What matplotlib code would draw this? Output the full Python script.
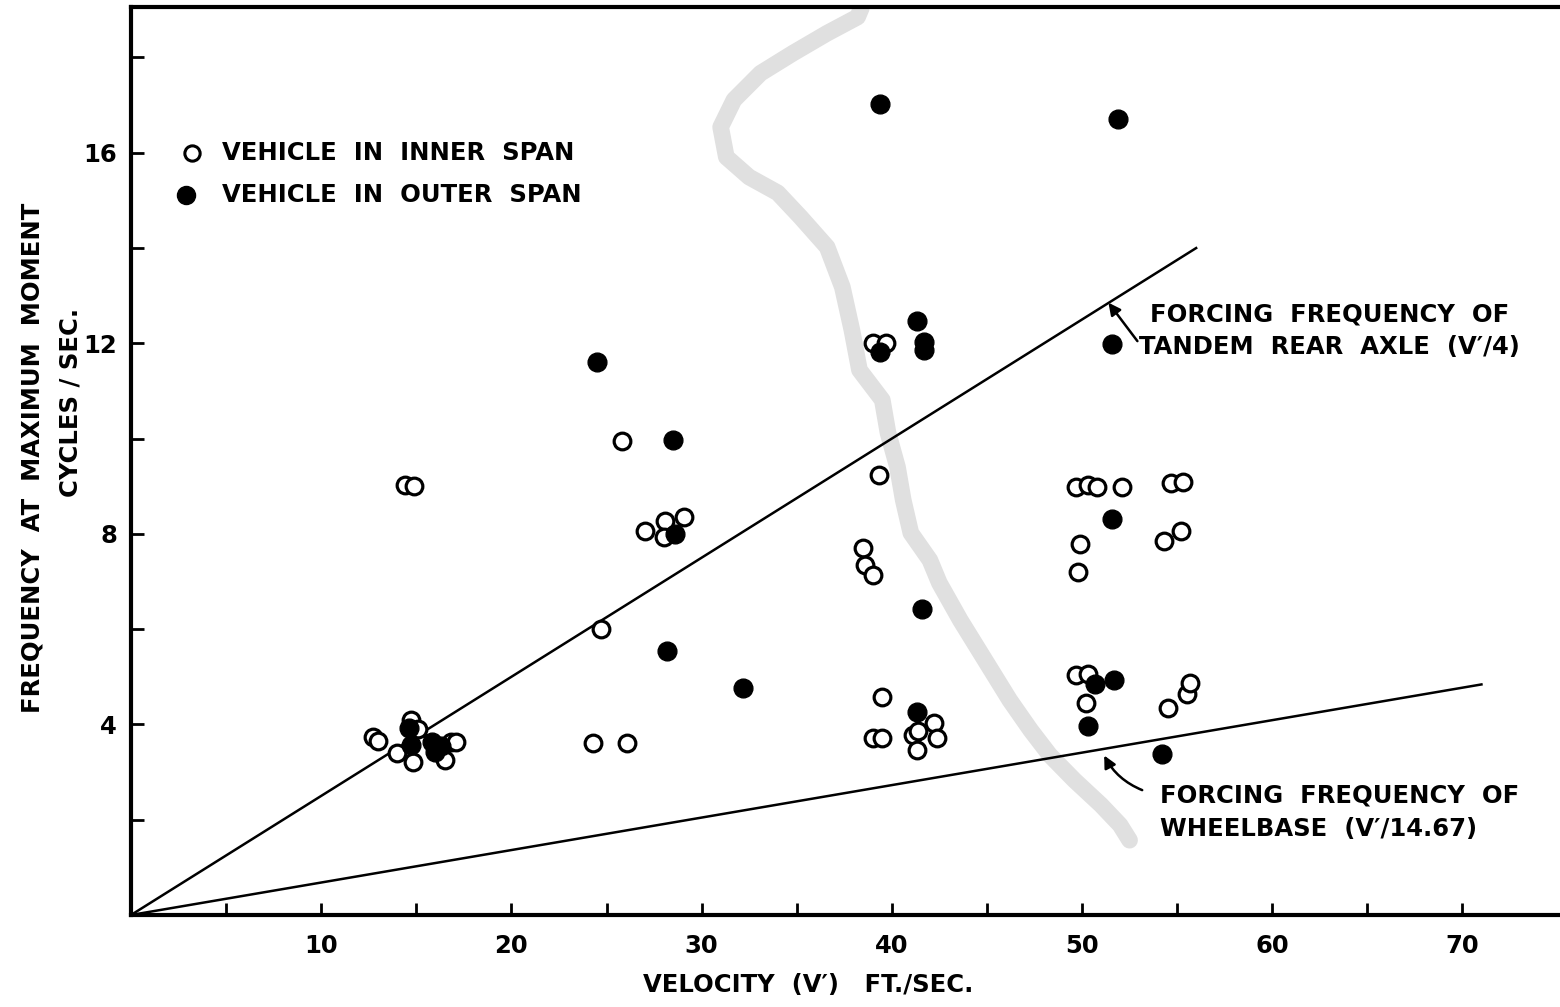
import matplotlib.pyplot as plt
import numpy as np

# vehicle in inner span (open circles)
inner_v = [12.7, 13.0, 14.0, 14.7, 14.8, 15.1, 16.5, 16.8, 17.1, 14.4, 14.9,
           24.3, 26.1, 24.7, 25.8, 27.0, 28.1, 28.0, 29.1,
           39.0, 39.7, 39.3, 38.5, 38.6, 39.0, 39.5, 39.0, 39.5, 41.1, 41.4, 42.2, 42.4, 41.3,
           49.7, 50.3, 50.8, 52.1, 54.7, 55.3, 49.9, 49.8, 54.3, 55.2,
           49.7, 50.3, 50.2, 54.5, 55.5, 55.7]
inner_f = [3.74, 3.65, 3.40, 4.09, 3.21, 3.90, 3.25, 3.63, 3.63, 9.03, 9.00,
           3.61, 3.61, 6.00, 9.95, 8.06, 8.27, 7.93, 8.35,
           12.01, 12.01, 9.24, 7.70, 7.35, 7.14, 4.58, 3.72, 3.72, 3.78, 3.86, 4.03, 3.72, 3.46,
           8.98, 9.03, 8.98, 8.98, 9.07, 9.09, 7.79, 7.20, 7.85, 8.06,
           5.04, 5.06, 4.45, 4.35, 4.64, 4.87]

# vehicle in outer span (filled circles)
outer_v = [14.6, 14.7, 15.8, 16.0, 16.3,
           24.5, 28.5, 28.2, 32.2, 28.6,
           39.4, 51.9, 39.4, 41.3, 41.7, 41.7, 41.6, 41.3,
           51.6, 50.7, 51.7, 50.3, 54.2, 51.6]
outer_f = [3.93, 3.57, 3.63, 3.42, 3.55,
           11.61, 9.97, 5.54, 4.76, 8.00,
           17.02, 16.71, 11.82, 12.47, 12.03, 11.86, 6.42, 4.26,
           8.31, 4.85, 4.93, 3.97, 3.38, 11.99]

# stippled band
band_v = [38.4, 38.2, 36.6, 34.8, 33.1, 31.7, 31.0, 31.3, 32.5, 34.0, 35.2, 36.6,
          37.4, 37.9, 38.3, 39.5, 39.8, 40.3, 40.6, 41.0, 42.0, 42.5, 43.6, 44.9,
          46.2, 47.3, 48.3, 49.6, 51.0, 52.0, 52.5]
band_f = [19.04, 18.85, 18.51, 18.09, 17.67, 17.11, 16.54, 15.91, 15.49, 15.16, 14.65, 14.02,
          13.18, 12.28, 11.44, 10.81, 10.12, 9.40, 8.71, 8.02, 7.45, 6.97, 6.19, 5.35,
          4.51, 3.88, 3.36, 2.83, 2.31, 1.89, 1.57]

tandem_end = 56.0
wheelbase_end = 71.0

fig = plt.figure(figsize=(15.6, 10.07), dpi=100)
ax = fig.add_axes([131/1560, 1 - 915/1007, (1560 - 131)/1560, (915 - 7)/1007])
ax.set_xlim(0, 75.13)
ax.set_ylim(0, 19.06)

ax.plot(band_v, band_f, color='#e0e0e0', lw=12, solid_capstyle='round', solid_joinstyle='round', zorder=1)

v1 = np.array([0, tandem_end])
ax.plot(v1, v1/4, color='k', lw=1.8, zorder=2)
v2 = np.array([0, wheelbase_end])
ax.plot(v2, v2/14.67, color='k', lw=1.8, zorder=2)

ax.plot(inner_v, inner_f, 'o', ms=12, mfc='white', mec='k', mew=2.3, zorder=3)
ax.plot(outer_v, outer_f, 'o', ms=13.5, mfc='k', mec='k', zorder=4)

# legend
fs = 17.5
ax.plot([0.0425], [0.8393], 'o', ms=11, mfc='white', mec='k', mew=2.2, transform=ax.transAxes, clip_on=False)
ax.plot([0.0385], [0.7930], 'o', ms=13, mfc='k', mec='k', transform=ax.transAxes, clip_on=False)
ax.text(0.0635, 0.8393, 'VEHICLE  IN  INNER  SPAN', fontsize=fs, fontweight='bold', va='center', transform=ax.transAxes)
ax.text(0.0635, 0.7930, 'VEHICLE  IN  OUTER  SPAN', fontsize=fs, fontweight='bold', va='center', transform=ax.transAxes)

# annotations
ax.annotate('', xy=(51.3, 12.9), xytext=(53.0, 12.0),
            arrowprops=dict(arrowstyle='-|>', color='k', lw=1.8, mutation_scale=18))
ax.text(53.6, 12.6, 'FORCING  FREQUENCY  OF', fontsize=fs, fontweight='bold', va='center')
ax.text(53.0, 11.93, 'TANDEM  REAR  AXLE  (V\u2032/4)', fontsize=fs, fontweight='bold', va='center')
ax.annotate('', xy=(51.1, 3.4), xytext=(53.3, 2.6),
            arrowprops=dict(arrowstyle='-|>', color='k', lw=1.8, mutation_scale=18,
                            connectionstyle='arc3,rad=-0.2'))
ax.text(54.1, 2.5, 'FORCING  FREQUENCY  OF', fontsize=fs, fontweight='bold', va='center')
ax.text(54.1, 1.8, 'WHEELBASE  (V\u2032/14.67)', fontsize=fs, fontweight='bold', va='center')

# axes styling
for s in ['left', 'bottom', 'top']:
    ax.spines[s].set_linewidth(3)
ax.spines['right'].set_visible(False)
ax.set_xticks(np.arange(5, 75, 5))
ax.set_xticklabels(['' if t % 10 else str(t) for t in range(5, 75, 5)])
ax.set_yticks(np.arange(2, 19, 2))
ax.set_yticklabels([str(t) if t % 4 == 0 else '' for t in range(2, 19, 2)])
ax.tick_params(direction='in', length=9, width=2, labelsize=fs, pad=14)
ax.tick_params(axis='y', pad=10)
for lab in ax.get_xticklabels() + ax.get_yticklabels():
    lab.set_fontweight('bold')

fig.text(808/1560, 1 - 985/1007, 'VELOCITY  (V\u2032)   FT./SEC.', fontsize=fs, fontweight='bold', ha='center', va='center')
fig.text(33/1560, 1 - 458/1007, 'FREQUENCY  AT  MAXIMUM  MOMENT', fontsize=fs, fontweight='bold', rotation=90, ha='center', va='center')
fig.text(70/1560, 1 - 402/1007, 'CYCLES / SEC.', fontsize=fs, fontweight='bold', rotation=90, ha='center', va='center')

fig.savefig('out.png', dpi=100)
